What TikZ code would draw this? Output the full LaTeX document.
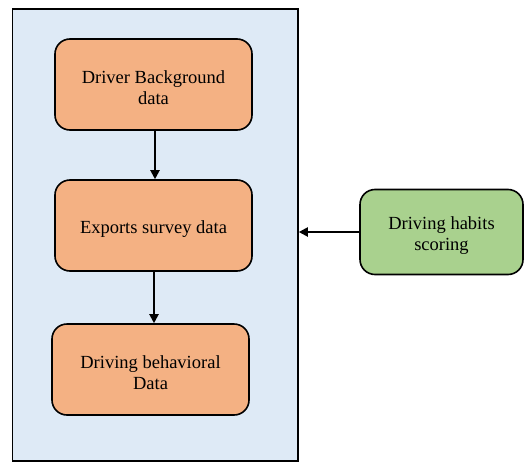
\documentclass[tikz,border=0pt]{standalone}
\usepackage{fontspec}
\setmainfont{Liberation Serif}
\usetikzlibrary{arrows.meta}
\definecolor{bgblue}{HTML}{DEEAF6}
\definecolor{boxorange}{HTML}{F4B183}
\definecolor{boxgreen}{HTML}{A9D18E}
\begin{document}
\begin{tikzpicture}[x=1pt,y=-1pt,
  proc/.style={draw=black,line width=1.6pt,rounded corners=15pt,minimum width=197pt,minimum height=91pt,inner sep=0pt},
  txt/.style={align=center,font=\fontsize{18.5}{21}\selectfont,inner sep=0pt,yshift=-3.5pt},
  conn/.style={line width=2pt,-{Triangle[length=9pt,width=9pt]}}]
\useasboundingbox (0,0) rectangle (529,468);
\node[draw=black,line width=1.6pt,fill=bgblue,minimum width=285.5pt,minimum height=452pt,inner sep=0pt] (outer) at (155.25,235) {};
\node[proc,fill=boxorange,label={[txt]center:Driver Background\\data}] (a) at (153.5,84.5) {};
\node[proc,fill=boxorange,label={[txt]center:Exports survey data}] (b) at (153.5,225.5) {};
\node[proc,fill=boxorange,label={[txt]center:Driving behavioral\\Data}] (c) at (150.5,369.5) {};
\node[proc,fill=boxgreen,minimum width=163pt,minimum height=85pt,label={[txt]center:Driving habits\\scoring}] (d) at (441.5,232) {};
\draw[conn] (a.south -| 155,0) -- (b.north -| 155,0);
\draw[conn] (b.south -| 154,0) -- (c.north -| 154,0);
\draw[conn] (d.west) -- (outer.east |- d.west);
\end{tikzpicture}
\end{document}
